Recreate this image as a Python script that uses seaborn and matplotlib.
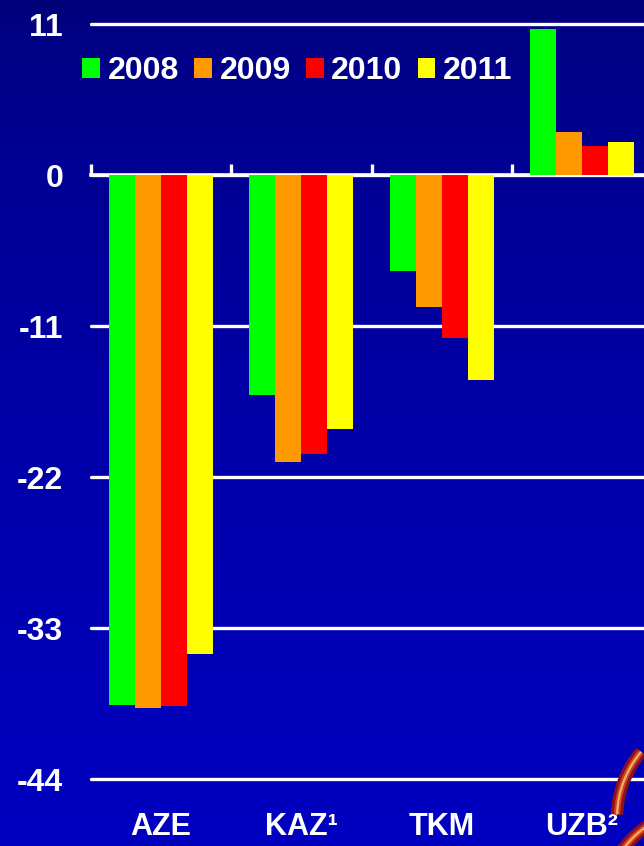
import numpy as np
import pandas as pd
import matplotlib
matplotlib.use("Agg")
import matplotlib.pyplot as plt
from matplotlib.patches import Arc
from matplotlib.transforms import IdentityTransform
import seaborn as sns

# Trade balance by country and year
countries = ["AZE", "KAZ¹", "TKM", "UZB²"]
years = ["2008", "2009", "2010", "2011"]
v2008 = [-38.6, -16.0, -7.0, 10.6]
v2009 = [-38.8, -20.9, -9.6, 3.1]
v2010 = [-38.7, -20.3, -11.9, 2.1]
v2011 = [-34.9, -18.5, -14.9, 2.4]
yticks = [11, 0, -11, -22, -33, -44]
bar_colors = ["#00FF00", "#FF9900", "#FF0000", "#FFFF00"]

rows = []
for yr, vals in zip(years, [v2008, v2009, v2010, v2011]):
    for c, v in zip(countries, vals):
        rows.append({"country": c, "year": yr, "value": v})
df = pd.DataFrame(rows)

sns.set_style("white")
plt.rcParams["font.family"] = ["Liberation Sans", "DejaVu Sans"]
plt.rcParams["font.weight"] = "bold"

W, H = 644, 846
fig = plt.figure(figsize=(W / 100, H / 100), dpi=100)

# blue backdrop, darker at the top
bg = fig.add_axes([0, 0, 1, 1])
t = np.linspace(0, 1, 400)[:, None]
blue = (120 + 72 * t ** 0.6) / 255.0
grad = np.dstack([np.zeros_like(blue), np.zeros_like(blue), blue])
bg.imshow(grad, aspect="auto", extent=[0, 1, 0, 1])
bg.set_axis_off()
bg.set_zorder(-5)

# decorative swirl in the lower right corner
for lw, col in [(9, "#8B1020"), (4.5, "#D04020"), (1.6, "#F0B060")]:
    fig.add_artist(Arc((720, H - 818), 206, 206, theta1=140, theta2=178,
                       transform=IdentityTransform(), color=col, lw=lw))
    fig.add_artist(Arc((700, H - 905), 190, 190, theta1=118, theta2=150,
                       transform=IdentityTransform(), color=col, lw=lw))

ax = fig.add_axes([91 / W, 67 / H, 561 / W, 755 / H])
ax.set_facecolor("none")

sns.barplot(data=df, x="country", y="value", hue="year", order=countries,
            hue_order=years, palette=dict(zip(years, bar_colors)),
            width=0.74, saturation=1, linewidth=0, errorbar=None,
            ax=ax, zorder=3)

ax.set_ylim(yticks[-1], yticks[0])
ax.set_xlim(-0.5, len(countries) - 0.5)
ax.set_xlabel("")
ax.set_ylabel("")
for s in ax.spines.values():
    s.set_visible(False)

ax.set_yticks(yticks)
ax.set_yticklabels([str(v) for v in yticks])
ax.grid(axis="y", color="white", lw=2.4, zorder=1)
ax.grid(axis="x", visible=False)
ax.set_axisbelow(True)
for gl in ax.get_ygridlines():
    gl.set_clip_on(False)
ax.tick_params(axis="y", length=0, pad=20, labelsize=23, labelcolor="white")
ax.tick_params(axis="x", length=0, pad=24, labelsize=22, labelcolor="white")
for lab in ax.get_xticklabels() + ax.get_yticklabels():
    lab.set_fontweight("bold")

# zero line with separators between country groups
lo, hi = ax.get_ylim()
sec = ax.secondary_xaxis((0 - lo) / (hi - lo))
sec.set_xticks(np.arange(len(countries) + 1) - 0.5)
sec.set_xticklabels([])
sec.tick_params(axis="x", direction="out", length=8, width=2.4, color="white")
for s in sec.spines.values():
    s.set_color("white")
    s.set_linewidth(2.6)

handles, labels = ax.get_legend_handles_labels()
leg = ax.legend(handles, labels, loc="center left",
                bbox_to_anchor=(82 / W, 1 - 71 / H), bbox_transform=fig.transFigure,
                ncol=4, frameon=False, fontsize=23, borderpad=0, borderaxespad=0,
                handlelength=0.56, handleheight=0.6, handletextpad=0.24,
                columnspacing=0.47)
for txt in leg.get_texts():
    txt.set_color("white")
    txt.set_fontweight("bold")

fig.savefig("out.png", dpi=100)
